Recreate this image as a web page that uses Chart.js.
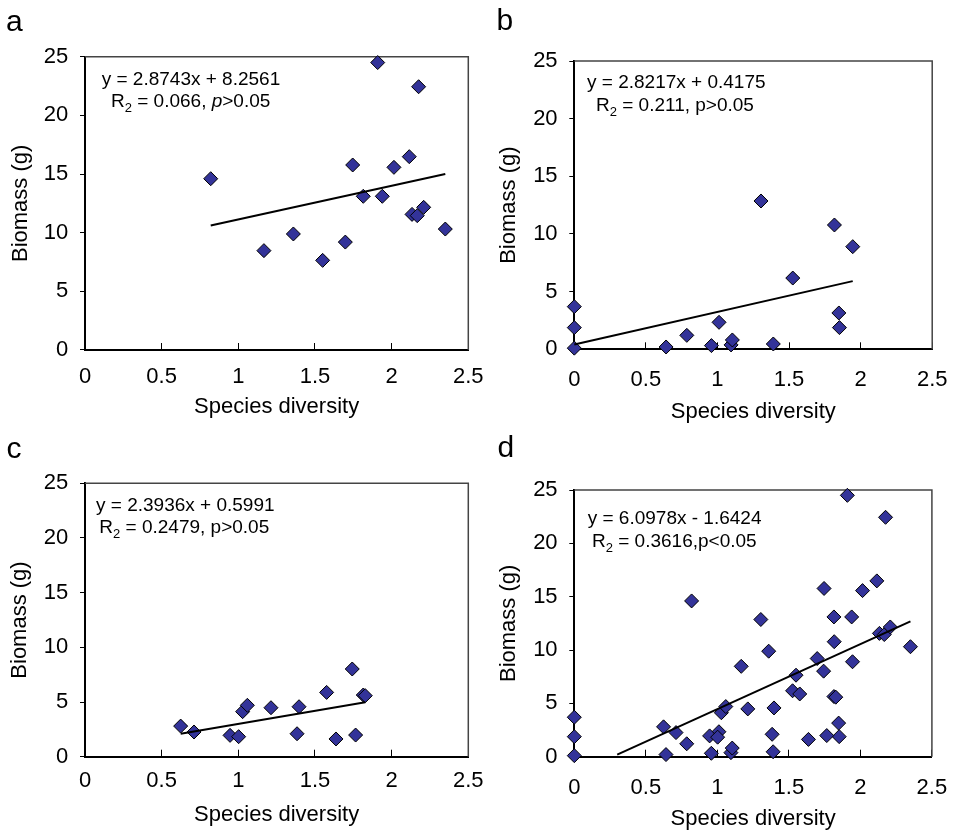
<!DOCTYPE html>
<html>
<head>
<meta charset="utf-8">
<script src="https://cdn.jsdelivr.net/npm/chart.js@4/dist/chart.umd.min.js"></script>
<style>
  html, body { margin: 0; padding: 0; background: #fff; }
  #wrap { position: relative; width: 972px; height: 833px; }
  #wrap canvas { position: absolute; left: 0; top: 0; }
</style>
</head>
<body>
<div id="wrap">
  <canvas id="pa" width="972" height="833"></canvas>
  <canvas id="pb" width="972" height="833"></canvas>
  <canvas id="pc" width="972" height="833"></canvas>
  <canvas id="pd" width="972" height="833"></canvas>
</div>
<script>
// ---- data ----
const diversityA = [0.82, 1.167, 1.359, 1.55, 1.698, 1.746, 1.815, 1.909, 1.939, 2.015, 2.115, 2.133, 2.167, 2.176, 2.209, 2.35];
const biomassA   = [14.6, 8.47, 9.89, 7.64, 9.2, 15.77, 13.1, 24.5, 13.1, 15.57, 16.48, 11.56, 11.45, 22.44, 12.16, 10.31];

const diversityB = [0, 0, 0, 0.641, 0.786, 0.958, 1.011, 1.095, 1.104, 1.304, 1.39, 1.526, 1.817, 1.848, 1.852, 1.945];
const biomassB   = [3.7, 1.88, 0.1, 0.2, 1.21, 0.32, 2.34, 0.38, 0.81, 12.86, 0.46, 6.18, 10.78, 3.15, 1.88, 8.9];

const diversityC = [0.624, 0.711, 0.946, 1.002, 1.028, 1.059, 1.213, 1.383, 1.396, 1.576, 1.637, 1.743, 1.765, 1.815, 1.828];
const biomassC   = [2.8, 2.26, 1.95, 1.83, 4.12, 4.7, 4.48, 2.1, 4.57, 5.88, 1.62, 8.02, 1.98, 5.64, 5.58];

// panel d pools the three sites
const diversityD = [...diversityA, ...diversityB, ...diversityC];
const biomassD   = [...biomassA, ...biomassB, ...biomassC];

// fitted line end points
const fitXA = [0.82, 2.35];   const fitYA = [10.61, 15.01];
const fitXB = [0, 1.945];     const fitYB = [0.42, 5.91];
const fitXC = [0.624, 1.828]; const fitYC = [2.09, 4.97];
const fitXD = [0.3, 2.35];    const fitYD = [0.19, 12.69];

const xTickValues = [0, 0.5, 1, 1.5, 2, 2.5];
const xTickLabels = ['0', '0.5', '1', '1.5', '2', '2.5'];
const yTickValues = [0, 5, 10, 15, 20, 25];
const yTickLabels = ['0', '5', '10', '15', '20', '25'];

const panelLetters = ['a', 'b', 'c', 'd'];
const equations = ['y = 2.8743x + 8.2561', 'y = 2.8217x + 0.4175', 'y = 2.3936x + 0.5991', 'y = 6.0978x - 1.6424'];
const r2Texts = [' = 0.066, ', ' = 0.211, ', ' = 0.2479, ', ' = 0.3616,'];
const pTexts = ['>0.05', '>0.05', '>0.05', '<0.05'];
const pItalic = [true, false, false, false];

const xTitle = 'Species diversity';
const yTitle = 'Biomass (g)';

// ---- layout (page pixels) ----
const FONT = '"Liberation Sans", Arial, Helvetica, sans-serif';
const panels = [
  { id: 'pa', xs: diversityA, ys: biomassA, fx: fitXA, fy: fitYA,
    area: { l: 85, t: 56.7, r: 468.3, b: 350 }, xH: 69.9, xPad: 20.5, yTitlePad: 2.5,
    letter: [6, 30.7], eq: [101.7, 85], r2: [111, 107.3] },
  { id: 'pb', xs: diversityB, ys: biomassB, fx: fitXB, fy: fitYB,
    area: { l: 574.3, t: 61, r: 952.7, b: 349.3 }, xH: 75.6, xPad: 24.5, yTitlePad: 1.8,
    letter: [496.5, 30], eq: [587, 88.3], r2: [596, 110.7] },
  { id: 'pc', xs: diversityC, ys: biomassC, fx: fitXC, fy: fitYC,
    area: { l: 85, t: 483.3, r: 468.3, b: 756.7 }, xH: 71.5, xPad: 18.1, yTitlePad: 1.8,
    letter: [6.5, 458.3], eq: [96, 510.7], r2: [99.3, 532.7] },
  { id: 'pd', xs: diversityD, ys: biomassD, fx: fitXD, fy: fitYD,
    area: { l: 574.3, t: 490, r: 952.7, b: 756.7 }, xH: 75.8, xPad: 24.8, yTitlePad: 1.8,
    letter: [497.4, 456.7], eq: [587.7, 524], r2: [592, 546.7] }
];
const Y_W = 80;

function makePanel(p, idx) {
  const canvas = document.getElementById(p.id);
  const W = canvas.width, H = canvas.height;

  // frame top/right + annotation text
  const annot = {
    id: 'annot' + idx,
    beforeDatasetsDraw(chart) {
      const { ctx, chartArea: a } = chart;
      ctx.save();
      ctx.strokeStyle = '#444';
      ctx.lineWidth = 1.5;
      ctx.beginPath();
      ctx.moveTo(a.left, a.top);
      ctx.lineTo(a.right, a.top);
      ctx.lineTo(a.right, a.bottom);
      ctx.stroke();
      ctx.restore();
    },
    afterDraw(chart) {
      const ctx = chart.ctx;
      ctx.save();
      ctx.fillStyle = '#000';
      ctx.textAlign = 'left';
      ctx.textBaseline = 'alphabetic';
      ctx.font = '30px ' + FONT;
      ctx.fillText(panelLetters[idx], p.letter[0], p.letter[1]);

      const eqFont = '19px ' + FONT;
      ctx.font = eqFont;
      ctx.fillText(equations[idx], p.eq[0], p.eq[1]);

      let x = p.r2[0];
      const y = p.r2[1];
      ctx.fillText('R', x, y);
      x += ctx.measureText('R').width;
      ctx.font = '13px ' + FONT;
      ctx.fillText('2', x, y + 5);
      x += ctx.measureText('2').width;
      ctx.font = eqFont;
      ctx.fillText(r2Texts[idx], x, y);
      x += ctx.measureText(r2Texts[idx]).width;
      ctx.font = (pItalic[idx] ? 'italic ' : '') + eqFont;
      ctx.fillText('p', x, y);
      x += ctx.measureText('p').width;
      ctx.font = eqFont;
      ctx.fillText(pTexts[idx], x, y);
      ctx.restore();
    }
  };

  return new Chart(canvas, {
    type: 'scatter',
    data: {
      datasets: [
        {
          type: 'line',
          data: p.fx.map((v, i) => ({ x: v, y: p.fy[i] })),
          borderColor: '#000',
          borderWidth: 2,
          pointRadius: 0,
          fill: false,
          clip: false,
          order: 0
        },
        {
          data: p.xs.map((v, i) => ({ x: v, y: p.ys[i] })),
          pointStyle: 'rectRot',
          pointRadius: 7,
          backgroundColor: '#333399',
          borderColor: '#000',
          borderWidth: 1,
          clip: false,
          order: 1
        }
      ]
    },
    options: {
      responsive: false,
      animation: false,
      events: [],
      layout: {
        padding: {
          left: p.area.l - Y_W,
          top: p.area.t,
          right: W - p.area.r,
          bottom: H - p.area.b - p.xH
        }
      },
      plugins: { legend: { display: false }, tooltip: { enabled: false } },
      scales: {
        x: {
          type: 'linear',
          min: 0, max: 2.5,
          afterBuildTicks: s => { s.ticks = xTickValues.map(v => ({ value: v })); },
          afterFit: s => { s.height = p.xH; },
          ticks: {
            autoSkip: false, maxRotation: 0, padding: p.xPad, color: '#000',
            font: { family: FONT, size: 22 },
            callback: (v, i) => xTickLabels[i]
          },
          grid: { drawOnChartArea: false, drawTicks: true, tickLength: -7, color: '#000', lineWidth: 1 },
          border: { display: true, color: '#000', width: 2 },
          title: {
            display: true, text: xTitle, color: '#000',
            font: { family: FONT, size: 22, lineHeight: 1.2 },
            padding: { top: 0, bottom: 0 }
          }
        },
        y: {
          type: 'linear',
          min: 0, max: 25,
          afterBuildTicks: s => { s.ticks = yTickValues.map(v => ({ value: v })); },
          afterFit: s => { s.width = Y_W; },
          ticks: {
            autoSkip: false, padding: 11.7, color: '#000',
            font: { family: FONT, size: 22 },
            callback: (v, i) => yTickLabels[i]
          },
          grid: { drawOnChartArea: false, drawTicks: true, tickLength: 5, color: '#000', lineWidth: 1 },
          border: { display: true, color: '#000', width: 2 },
          title: {
            display: true, text: yTitle, color: '#000',
            font: { family: FONT, size: 22, lineHeight: 1.2 },
            padding: { top: p.yTitlePad, bottom: 0 }
          }
        }
      }
    },
    plugins: [annot]
  });
}

panels.forEach(makePanel);
</script>
</body>
</html>
